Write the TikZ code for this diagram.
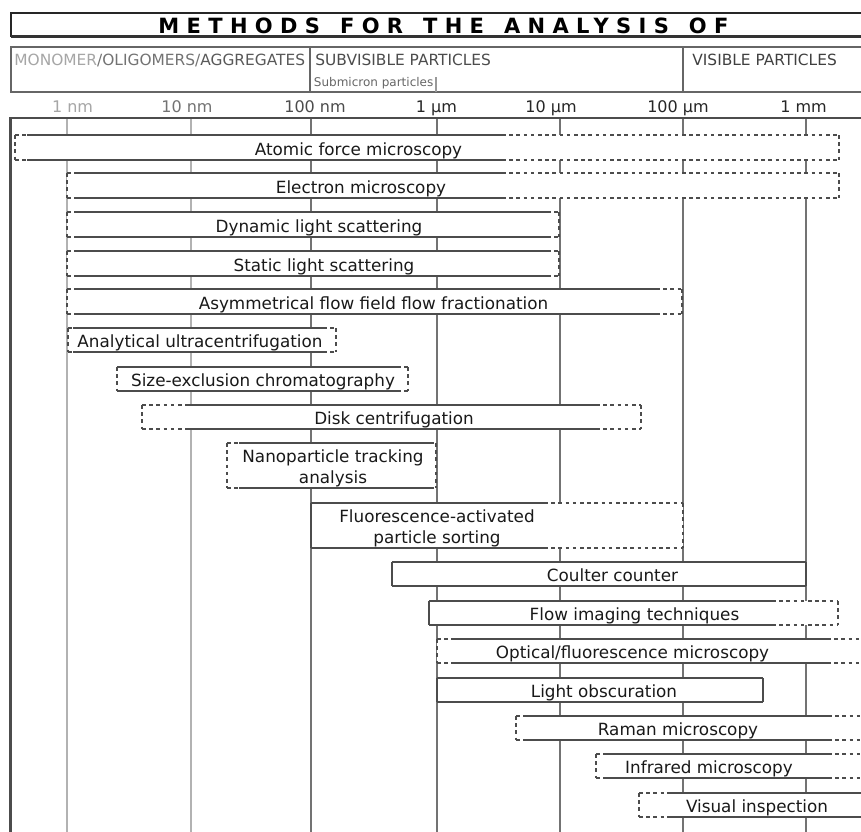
\documentclass[tikz,border=0pt]{standalone}
\usepackage{fontspec}
\setmainfont{DejaVu Sans}
\newfontfamily\titlefont{DejaVu Sans}[LetterSpace=35]

% #1 top, #2 height, #3 left end, #4 solid from, #5 solid to, #6 right end, #7/#8 end styles
\newcommand{\methodbar}[8]{%
  \fill[white] (#3,#1) rectangle (#6,#1+#2);
  \draw[dashline] (#3,#1) -- (#4,#1) (#3,#1+#2) -- (#4,#1+#2)
                  (#5,#1) -- (#6,#1) (#5,#1+#2) -- (#6,#1+#2);
  \draw[barline] (#4,#1) -- (#5,#1) (#4,#1+#2) -- (#5,#1+#2);
  \draw[#7] (#3,#1) -- (#3,#1+#2);
  \draw[#8] (#6,#1) -- (#6,#1+#2);
}

\begin{document}
\begin{tikzpicture}[
    x=0.5pt, y=-0.5pt,
    font=\fontsize{8.4}{10.5}\selectfont,
    frameline/.style={draw=black!60, line width=1pt},
    gridline/.style={draw=black!55, line width=0.9pt},
    gridlight/.style={draw=black!30, line width=0.9pt},
    barline/.style={draw=black!70, line width=0.9pt},
    dashline/.style={draw=black!70, line width=0.9pt, dash pattern=on 1.8pt off 1.8pt},
    noend/.style={draw=none},
    methodlabel/.style={anchor=base, inner sep=0pt, text=black!90, align=center},
    scalelabel/.style={anchor=base, inner sep=0pt, font=\fontsize{8}{10}\selectfont},
    headlabel/.style={anchor=base west, inner sep=0pt, font=\fontsize{7.7}{9}\selectfont}
]
\useasboundingbox (0,0) rectangle (861,831);
\fill[white] (0,0) rectangle (861,831);

% Title and size classes
\draw[draw=black!85, line width=1pt] (870,12.5) -- (11,12.5) -- (11,36.5);
\draw[draw=black!80, line width=1.6pt] (10.5,36.5) -- (870,36.5);
\node[anchor=base, inner sep=0pt, font=\titlefont\bfseries\fontsize{10.5}{12}\selectfont]
    (title) at (443.5,33.3)
    {METHODS\hspace{10pt}FOR\hspace{10pt}THE\hspace{10pt}ANALYSIS\hspace{10pt}OF};

\draw[frameline] (870,46.5) -- (11,46.5) -- (11,92) -- (870,92);
\draw[frameline] (310,46.5) -- (310,92);
\draw[frameline] (683,46.5) -- (683,92);
\draw[draw=black!40, line width=0.6pt] (436,77) -- (436,92);
\node[headlabel] (mono) at (14,65.3)
    {\textcolor{black!35}{MONOMER}\textcolor{black!55}{/OLIGOMERS/}\textcolor{black!65}{AGGREGATES}};
\node[headlabel, text=black!70] (subvis) at (315,65.3) {SUBVISIBLE PARTICLES};
\node[headlabel, text=black!60, font=\fontsize{6}{7}\selectfont] (submicron) at (313.5,86.5) {Submicron particles};
\node[headlabel, text=black!75] (vis) at (692,65.3) {VISIBLE PARTICLES};

% Size scale
\node[scalelabel, text=black!35] (s1nm) at (72.5,112.5) {1 nm};
\node[scalelabel, text=black!55] (s10nm) at (187,112.5) {10 nm};
\node[scalelabel, text=black!70] (s100nm) at (315,112.5) {100 nm};
\node[scalelabel, text=black!85] (s1um) at (436.5,112.5) {1 µm};
\node[scalelabel, text=black!85] (s10um) at (551,112.5) {10 µm};
\node[scalelabel, text=black!85] (s100um) at (678,112.5) {100 µm};
\node[scalelabel, text=black!85] (s1mm) at (803.5,112.5) {1 mm};

% Grid
\foreach \gx in {67,191}
    \draw[gridlight] (\gx,117.5) -- (\gx,835);
\foreach \gx in {311,437,560,683,806}
    \draw[gridline] (\gx,117.5) -- (\gx,835);
\draw[draw=black!70, line width=1pt] (870,117.5) -- (10,117.5);
\draw[draw=black!70, line width=1.5pt] (10.5,117) -- (10.5,835);

% Methods
\methodbar{135}{25}{15}{27}{502}{839}{dashline}{dashline}
\node[methodlabel] (afm) at (358.5,155) {Atomic force microscopy};
\methodbar{173}{25}{67}{78}{502}{839}{dashline}{dashline}
\node[methodlabel] (em) at (361,193) {Electron microscopy};
\methodbar{212}{25}{67}{78}{547}{559}{dashline}{dashline}
\node[methodlabel] (dls) at (319,232) {Dynamic light scattering};
\methodbar{251}{25}{67}{78}{547}{559}{dashline}{dashline}
\node[methodlabel] (sls) at (324,271) {Static light scattering};
\methodbar{289}{25}{67}{78}{656}{682}{dashline}{dashline}
\node[methodlabel] (af4) at (373.5,309) {Asymmetrical flow field flow fractionation};
\methodbar{328}{24}{68}{73}{323}{336}{dashline}{dashline}
\node[methodlabel] (auc) at (200,347.5) {Analytical ultracentrifugation};
\methodbar{367}{24}{117}{120}{397}{408}{dashline}{dashline}
\node[methodlabel] (sec) at (263,386.5) {Size-exclusion chromatography};
\methodbar{405}{24}{142}{186}{596}{641}{dashline}{dashline}
\node[methodlabel] (dc) at (394,424.5) {Disk centrifugation};
\methodbar{443}{45}{227}{239}{430}{436}{dashline}{dashline}
\node[methodlabel] (nta) at (333,483) {Nanoparticle tracking\\analysis};
\methodbar{503}{45}{311}{311}{544}{683}{barline}{dashline}
\node[methodlabel] (facs) at (437,543) {Fluorescence-activated\\particle sorting};
\methodbar{562}{24}{392}{392}{806}{806}{barline}{barline}
\node[methodlabel] (cc) at (612.5,581.5) {Coulter counter};
\methodbar{601}{24}{429}{429}{772}{838}{barline}{dashline}
\node[methodlabel] (fim) at (634.5,620.5) {Flow imaging techniques};
\methodbar{639}{24}{437}{454}{827}{870}{dashline}{noend}
\node[methodlabel] (ofm) at (632.5,658.5) {Optical/fluorescence microscopy};
\methodbar{678}{24}{437}{437}{763}{763}{barline}{barline}
\node[methodlabel] (lo) at (604,697.5) {Light obscuration};
\methodbar{716}{24}{516}{527}{828}{870}{dashline}{noend}
\node[methodlabel] (raman) at (678,735.5) {Raman microscopy};
\methodbar{754}{24}{596}{605}{828}{870}{dashline}{noend}
\node[methodlabel] (ir) at (709,773.5) {Infrared microscopy};
\methodbar{793}{24}{639}{667}{870}{870}{dashline}{noend}
\node[methodlabel] (vi) at (757,812.5) {Visual inspection};

\end{tikzpicture}
\end{document}
